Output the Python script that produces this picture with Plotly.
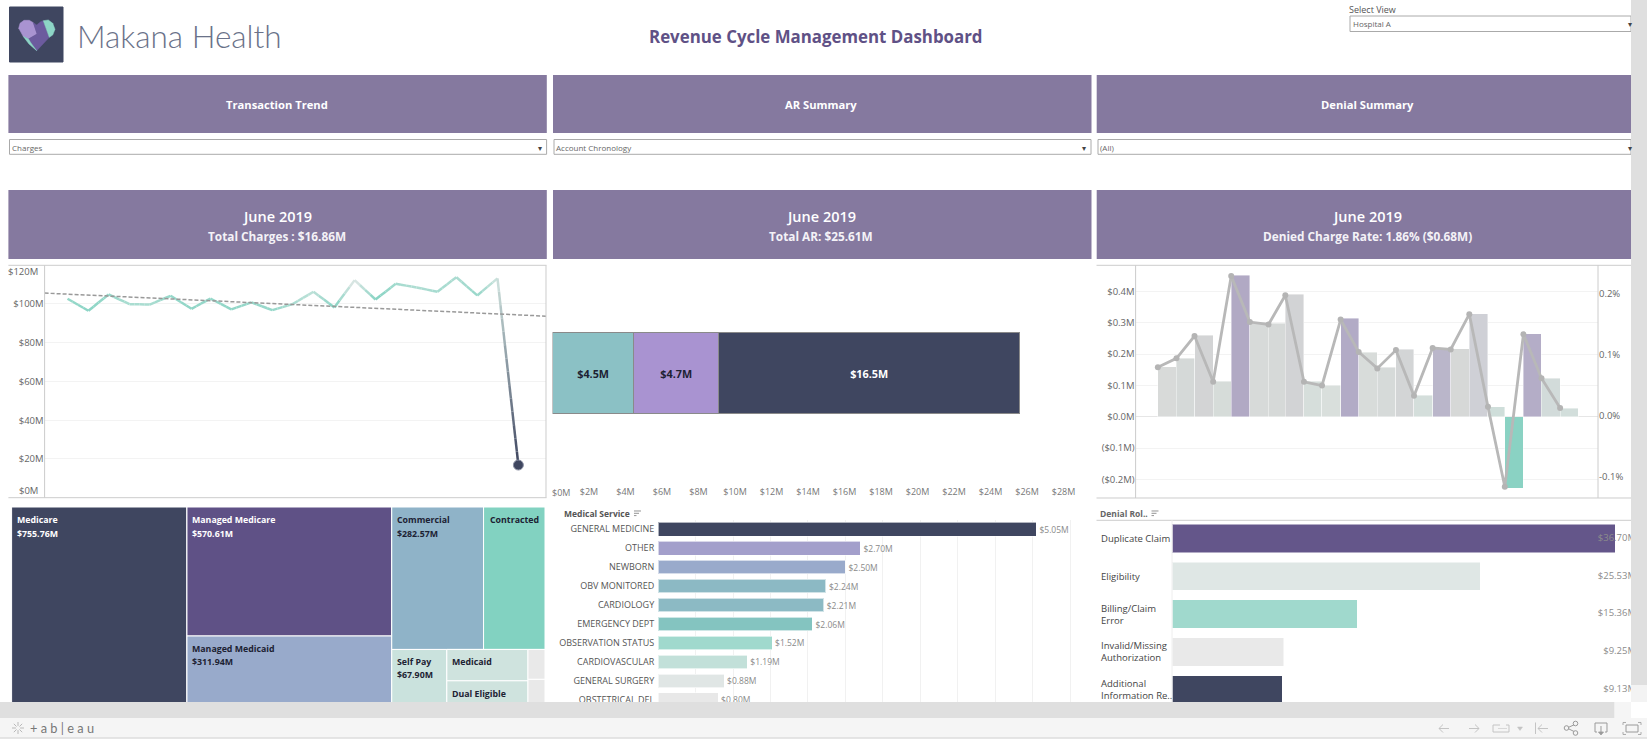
import pandas as pd
import plotly.graph_objects as go

W, H = 1647, 739
FONT = "Open Sans"

# ---------- data ----------
months = list(pd.date_range("2017-08-01", "2019-06-01", freq="MS"))
charges = [102.7, 96.5, 104.9, 99.9, 99.7, 104.2, 97.5, 102.8, 97.2, 100.8, 96.8, 99.9,
           106.3, 98.2, 112.3, 102.3, 110.4, 108.5, 106.3, 113.8, 104.4, 113.2, 16.86]
charge_colors = ["#97d8ca", "#8cd5c5", "#97d8ca", "#aaddd1", "#aaddd1", "#97d8ca", "#90d6c7", "#97d8ca",
                 "#90d6c7", "#97d8ca", "#97d8ca", "#aaddd1", "#bde0d8", "#85d3c3", "#e3e8e6", "#85d3c3",
                 "#a3dbce", "#b0ddd3", "#a5dbcf", "#aedcd2", "#97d8ca", "#cfe3de", "#3f4660"]
trend_x = ["2017-06-28", "2019-07-12"]
trend_y = [105.6, 93.7]
charge_tick_vals = [20, 40, 60, 80, 100]
charge_tick_text = ["$20M", "$40M", "$60M", "$80M", "$100M"]

ar_labels = ["$4.5M", "$4.7M", "$16.5M"]
ar_values = [4.45, 4.66, 16.48]
ar_colors = ["#8bc1c5", "#a993d1", "#3f4660"]
ar_text_colors = ["#1d2233", "#1d2233", "#ffffff"]
ar_tick_vals = list(range(2, 30, 2))
ar_tick_text = ["$%dM" % v for v in ar_tick_vals]

denied_amt = [0.16, 0.187, 0.26, 0.113, 0.451, 0.302, 0.298, 0.391, 0.113, 0.101, 0.314, 0.206,
              0.157, 0.215, 0.068, 0.218, 0.217, 0.329, 0.032, -0.228, 0.264, 0.122, 0.027]
denied_colors = ["#d8dad9", "#d5d9d8", "#d3d4d5", "#d6dcd9", "#b1a9c4", "#d7dad9", "#d6d9d8", "#d2d3d5",
                 "#d6dedb", "#d9dfdc", "#b2abc6", "#d8dcda", "#d6dad9", "#d3d5d6", "#d4dedb", "#bab6ca",
                 "#d6d8d7", "#cfd0d6", "#cfdeda", "#8ad2c3", "#b4adc7", "#d2dbda", "#d2dedb"]
denied_rate = [0.080, 0.0945, 0.131, 0.056, 0.2295, 0.154, 0.150, 0.198, 0.056, 0.050, 0.158, 0.105,
               0.078, 0.108, 0.033, 0.1115, 0.109, 0.167, 0.015, -0.116, 0.134, 0.062, 0.013]
amt_tick_vals = [-0.2, -0.1, 0.0, 0.1, 0.2, 0.3, 0.4]
amt_tick_text = ["($0.2M)", "($0.1M)", "$0.0M", "$0.1M", "$0.2M", "$0.3M", "$0.4M"]
rate_tick_vals = [-0.1, 0.0, 0.1, 0.2]
rate_tick_text = ["-0.1%", "0.0%", "0.1%", "0.2%"]

tm_ids = ["Root", "Medicare", "ColB", "Managed Medicare", "Managed Medicaid", "ColC", "RowC1", "Commercial",
          "Contracted", "RowC2", "Self Pay", "ColD", "Medicaid", "Dual Eligible", "ColE", "Other A", "Other B"]
tm_parents = ["", "Root", "Root", "ColB", "ColB", "Root", "ColC", "RowC1", "RowC1", "ColC", "RowC2", "RowC2",
              "ColD", "ColD", "RowC2", "ColE", "ColE"]
tm_values = [0, 755.76, 0, 570.61, 311.94, 0, 0, 282.57, 189, 0, 67.90, 0, 55, 45, 0, 11, 10]
tm_colors = ["rgba(0,0,0,0)", "#3f4660", "rgba(0,0,0,0)", "#5f5186", "#98aacb", "rgba(0,0,0,0)", "rgba(0,0,0,0)",
             "#8fb3c8", "#82d2c1", "rgba(0,0,0,0)", "#cae2dd", "rgba(0,0,0,0)", "#cfe3de", "#cfe3de",
             "rgba(0,0,0,0)", "#e9e9e9", "#e9e9e9"]

# tile captions: text, left px, first-line px, colour
tm_captions = [("Medicare", 16.8, 520.3, "#ffffff"), ("$755.76M", 16.8, 533.7, "#ffffff"),
               ("Managed Medicare", 192, 520.3, "#ffffff"), ("$570.61M", 192, 533.7, "#ffffff"),
               ("Managed Medicaid", 192, 649, "#1d2233"), ("$311.94M", 192, 662.4, "#1d2233"),
               ("Commercial", 397, 520.3, "#1d2233"), ("$282.57M", 397, 533.7, "#1d2233"),
               ("Contracted", 489.5, 520.3, "#1d2233"),
               ("Self Pay", 397, 661.7, "#1d2233"), ("$67.90M", 397, 675.3, "#1d2233"),
               ("Medicaid", 451.6, 661.7, "#1d2233"), ("Dual Eligible", 451.6, 693.7, "#1d2233")]

svc_names = ["GENERAL MEDICINE", "OTHER", "NEWBORN", "OBV MONITORED", "CARDIOLOGY", "EMERGENCY DEPT",
             "OBSERVATION STATUS", "CARDIOVASCULAR", "GENERAL SURGERY", "OBSTETRICAL DEL"]
svc_values = [5.05, 2.70, 2.50, 2.24, 2.21, 2.06, 1.52, 1.19, 0.88, 0.80]
svc_labels = ["$5.05M", "$2.70M", "$2.50M", "$2.24M", "$2.21M", "$2.06M", "$1.52M", "$1.19M", "$0.88M", "$0.80M"]
svc_colors = ["#3f4660", "#a39fcb", "#99aacb", "#8cb9c4", "#8cbac4", "#84c4c0", "#a0d9cd", "#c2e0d9", "#e0e6e5", "#e8e8e8"]

den_names = ["Duplicate Claim", "Eligibility", "Billing/Claim<br>Error", "Invalid/Missing<br>Authorization",
             "Additional<br>Information Re.."]
den_values = [36.70, 25.53, 15.36, 9.25, 9.13]
den_labels = ["$36.70M", "$25.53M", "$15.36M", "$9.25M", "$9.13M"]
den_colors = ["#64568a", "#dfe7e5", "#a0d9cd", "#e9e9e9", "#3f4660"]
den_label_pos = [38.44] * 5


# ---------- pixel helpers ----------
def X(px): return px / W
def Y(py): return 1 - py / H


shapes, notes = [], []


def rect(x0, y0, x1, y1, fill, line=None, lw=1):
    shapes.append(dict(type="rect", xref="paper", yref="paper", x0=X(x0), x1=X(x1), y0=Y(y0), y1=Y(y1),
                       fillcolor=fill, line=dict(color=line or fill, width=lw if line else 0), layer="above"))


def seg(pts, color, lw=1, fill=None, close=False):
    d = "M" + " L".join("%.5f,%.5f" % (X(a), Y(b)) for a, b in pts) + (" Z" if close else "")
    shapes.append(dict(type="path", xref="paper", yref="paper", path=d, fillcolor=fill,
                       line=dict(color=color, width=lw), layer="above"))


def txt(x, y, s, size=10, color="#555555", anchor="center", family=FONT, weight=None, align=None):
    f = dict(size=size, color=color, family=family)
    if weight: f["weight"] = weight
    notes.append(dict(x=X(x), y=Y(y), xref="paper", yref="paper", text=s, showarrow=False, font=f,
                      xanchor=anchor, yanchor="middle", align=align or anchor))


# ---------- figure ----------
fig = go.Figure()
hov = dict(hoverinfo="skip", showlegend=False)


def hexrgb(h): return [int(h[i:i + 2], 16) for i in (1, 3, 5)]


# line chart: each straight month-to-month segment is painted with a colour blend
for i in range(len(months) - 1):
    steps = 14 if i == len(months) - 2 else 4
    c0, c1 = hexrgb(charge_colors[i]), hexrgb(charge_colors[i + 1])
    for k in range(steps):
        f0, f1, fm = k / steps, (k + 1) / steps, (k + .5) / steps
        col = "rgb(%d,%d,%d)" % tuple(round(a + (b - a) * fm) for a, b in zip(c0, c1))
        fig.add_trace(go.Scatter(
            x=[months[i] + (months[i + 1] - months[i]) * f0, months[i] + (months[i + 1] - months[i]) * f1],
            y=[charges[i] + (charges[i + 1] - charges[i]) * f0, charges[i] + (charges[i + 1] - charges[i]) * f1],
            mode="lines", line=dict(color=col, width=2.5), xaxis="x", yaxis="y", **hov))
fig.add_trace(go.Scatter(x=trend_x, y=trend_y, mode="lines", line=dict(color="#999999", width=1.5, dash="4px,2px"),
                         xaxis="x", yaxis="y", **hov))
fig.add_trace(go.Scatter(x=months[-1:], y=charges[-1:], mode="markers",
                         marker=dict(size=10, color="#3f4660", line=dict(color="#8b90a3", width=1)),
                         xaxis="x", yaxis="y", **hov))

# AR stacked bar
for v, l, c, tc in zip(ar_values, ar_labels, ar_colors, ar_text_colors):
    fig.add_trace(go.Bar(x=[v], y=["AR"], orientation="h", width=0.378, text=["<b>%s</b>" % l], textposition="inside",
                         insidetextanchor="middle", textangle=0, constraintext="none",
                         textfont=dict(size=10.8, color=tc, family=FONT),
                         marker=dict(color=c, line=dict(color="#8a8a8a", width=1.2)),
                         xaxis="x2", yaxis="y2", **hov))

# denial columns + rate line
month_ms = [(b - a).total_seconds() * 1000 for a, b in zip(months, months[1:] + [pd.Timestamp("2019-07-01")])]
fig.add_trace(go.Bar(x=months, y=denied_amt, width=month_ms, offset=0,
                     marker=dict(color=denied_colors, line=dict(color="rgba(255,255,255,0.6)", width=0.7)),
                     xaxis="x3", yaxis="y3", **hov))
fig.add_trace(go.Scatter(x=months, y=denied_rate, mode="lines+markers", line=dict(color="#b8b8b8", width=2.8),
                         marker=dict(size=6, color="#b4b4b4"), xaxis="x3", yaxis="y4", **hov))

# treemap
fig.add_trace(go.Treemap(ids=tm_ids, labels=tm_ids, parents=tm_parents, values=tm_values, branchvalues="remainder",
                         textinfo="none", sort=False,
                         marker=dict(colors=tm_colors, line=dict(color="#ffffff", width=1),
                                     pad=dict(t=0, l=0, r=0, b=0)),
                         tiling=dict(packing="slice-dice", pad=0), pathbar=dict(visible=False),
                         domain=dict(x=[X(11.6), X(545)], y=[Y(706.5), Y(507)]), hoverinfo="skip"))
for s, x0, y0, c in tm_captions:
    txt(x0 - 2, y0, "<b>%s</b>" % s, 8.8, c, "left")

# medical service bars
fig.add_trace(go.Bar(x=svc_values, y=svc_names, orientation="h", width=0.72, text=svc_labels, textposition="outside",
                     textfont=dict(size=8.5, color="#8a8a8a", family=FONT), cliponaxis=False,
                     marker=dict(color=svc_colors, line=dict(color="rgba(255,255,255,0.6)", width=1)),
                     xaxis="x5", yaxis="y5", **hov))

# denial reason bars
den_y = den_names
fig.add_trace(go.Bar(x=den_values, y=den_y, orientation="h", width=0.75,
                     marker=dict(color=den_colors, line=dict(color="rgba(255,255,255,0.5)", width=1)),
                     xaxis="x6", yaxis="y6", **hov))
fig.add_trace(go.Scatter(x=den_label_pos, y=den_y, mode="text", text=den_labels, textposition="middle left",
                         textfont=dict(size=9.5, color="#8c8c8c", family=FONT), xaxis="x6", yaxis="y6", **hov))

GRID = "#f3f3f3"
FRAME = "#cccccc"
TICK = dict(size=9.5, color="#666666", family=FONT)
CAT = dict(size=9, color="#555555", family=FONT)

fig.update_layout(
    width=W, height=H, margin=dict(l=0, r=0, t=0, b=0), autosize=False, paper_bgcolor="#ffffff",
    plot_bgcolor="rgba(0,0,0,0)", barmode="stack", showlegend=False, font=dict(family=FONT),
    xaxis=dict(domain=[X(44.6), X(546)], range=["2017-06-28", "2019-07-12"], type="date", showticklabels=False,
               showgrid=False, zeroline=False, ticks="", anchor="y"),
    yaxis=dict(domain=[Y(497.7), Y(265.2)], range=[0, 120], tickvals=charge_tick_vals, ticktext=charge_tick_text,
               gridcolor=GRID, zeroline=False, tickfont=TICK, anchor="x", ticks=""),
    xaxis2=dict(domain=[X(552.5), X(1090)], range=[0, 29.45], tickvals=ar_tick_vals, ticktext=ar_tick_text,
                showgrid=False, zeroline=False, tickfont=dict(size=9, color="#777777", family=FONT), anchor="y2",
                ticks="", ticklabelstandoff=4),
    yaxis2=dict(domain=[Y(481), Y(265)], range=[-0.5, 0.5], type="category", showticklabels=False, showgrid=False,
                zeroline=False, anchor="x2"),
    xaxis3=dict(domain=[X(1135.6), X(1598)], range=["2017-06-25", "2019-08-03"], type="date", showticklabels=False,
                showgrid=False, zeroline=False, ticks="", anchor="y3"),
    yaxis3=dict(domain=[Y(498), Y(265.3)], range=[-0.2595, 0.4832], tickvals=amt_tick_vals, ticktext=amt_tick_text,
                gridcolor=GRID, zeroline=True, zerolinecolor="#e6e6e6", zerolinewidth=1, tickfont=TICK, anchor="x3", ticks=""),
    yaxis4=dict(domain=[Y(498), Y(265.3)], range=[-0.13443, 0.24705], tickvals=rate_tick_vals, ticktext=rate_tick_text,
                showgrid=False, zeroline=False, tickfont=TICK, anchor="x3", overlaying="y3", side="right", ticks=""),
    xaxis5=dict(domain=[X(658.2), X(1077.6)], range=[0, 5.6], dtick=0.5, showticklabels=False, gridcolor="#f1f1f1",
                zeroline=False, anchor="y5", ticks=""),
    yaxis5=dict(domain=[Y(709.3), Y(519.8)], type="category", categoryorder="array", categoryarray=svc_names,
                range=[9.5, -0.5], showgrid=False, zeroline=False, tickfont=CAT, anchor="x5", ticks="",
                ticklabelstandoff=3),
    xaxis6=dict(domain=[X(1172), X(1647)], range=[0, 39.35], showticklabels=False, showgrid=False, zeroline=False,
                anchor="y6"),
    yaxis6=dict(domain=[Y(708.6), Y(519.6)], type="category", categoryorder="array", categoryarray=den_names,
                range=[4.5, -0.5], showticklabels=False, showgrid=False, zeroline=False, anchor="x6"),
)

# ---------- frames ----------
for y0 in (265.3, 497.7):
    seg([(8.4, y0), (546.5, y0)], FRAME, 1)
seg([(44.6, 265.3), (44.6, 497.7)], FRAME, 1)
seg([(546, 265.3), (546, 497.7)], FRAME, 1)
for y0 in (265.3, 498):
    seg([(1096.5, y0), (1631, y0)], FRAME, 1)
seg([(1135.6, 265.3), (1135.6, 498)], FRAME, 1)
seg([(1598, 265.3), (1598, 498)], FRAME, 1)
seg([(1096.5, 520.3), (1631, 520.3)], FRAME, 1)
seg([(1172, 520.3), (1172, 702)], "#eeeeee", 1)

# end labels shifted inside the frame
txt(39.7, 271.3, "$120M", 9.5, "#666666", "right")
txt(39.7, 490.7, "$0M", 9.5, "#666666", "right")
txt(561, 492.3, "$0M", 9, "#777777")

# ---------- header ----------
rect(9.5, 7, 63, 62, "#3f4660", "#3f4660", 1)
seg([(18.7, 28.3), (20, 23.3), (24, 20.3), (29.3, 20.3), (33.3, 22.7), (37, 34), (28.5, 39), (23.3, 36.5)],
    "#a993d1", 0.5, "#a993d1", True)
seg([(33.3, 22.7), (36.7, 25), (40.7, 21.7), (43.3, 20.7), (49.3, 37.3), (36.7, 50.7), (31, 43), (28.5, 39), (37, 34)],
    "#6c5b9e", 0.5, "#6c5b9e", True)
seg([(43.3, 20.7), (48.3, 20), (52.7, 23.3), (55, 29.3), (52.7, 35), (49.3, 37.3)], "#8dd5c6", 0.5, "#8dd5c6", True)
seg([(23.3, 36.5), (28.5, 39), (31, 43), (36.7, 50.7), (29, 44)], "#8dd5c6", 0.5, "#8dd5c6", True)
txt(74.5, 36, "Makana Health", 31.5, "#6a7289", "left", "Lato", 300)
txt(816, 36.5, "<b>Revenue Cycle Management Dashboard</b>", 16.87, "#5f5186")
txt(1347, 9, "Select View", 9, "#555555", "left")

for x0, x1, label, ycls in [(1350, 1631, "Hospital A", (16, 31.5))]:
    rect(x0, ycls[0], x1, ycls[1], "#ffffff", "#aaaaaa", 1)
    txt(x0 + 1, 24, label, 8, "#666666", "left")
txt(1630, 24, "▾", 8, "#444444")

for x0, x1, cx, name, sub in [(8.4, 546.8, 276.5, "Transaction Trend", "Total Charges : $16.86M"),
                              (553, 1091.5, 821, "AR Summary", "Total AR: $25.61M"),
                              (1096.7, 1631, 1367, "Denial Summary", "Denied Charge Rate: 1.86% ($0.68M)")]:
    rect(x0, 75, x1, 133, "#85799f")
    rect(x0, 190, x1, 259, "#85799f")
    txt(cx, 104.3, "<b>%s</b>" % name, 11.2, "#ffffff")
    txt(cx, 216.7, "June 2019", 14.5, "#ffffff", weight=600)
    txt(cx, 236, "<b>%s</b>" % sub, 11.8, "#f4f2f7")

for x0, x1, label in [(9.5, 546.6, "Charges"), (554, 1091, "Account Chronology"), (1098, 1631, "(All)")]:
    rect(x0, 139.5, x1, 154.3, "#ffffff", "#aaaaaa", 1)
    txt(x0, 147, label, 8, "#666666", "left")
    txt(x1 - 7 if x1 < 1600 else 1630, 147, "▾", 8, "#444444")

# ---------- sub-headers ----------
txt(562, 513.7, "<b>Medical Service</b>", 8.5, "#555555", "left")
txt(1098, 513.7, "<b>Denial Rol..</b>", 8.5, "#666666", "left")
for x0 in (634, 1151.5):
    for j, ln in enumerate((7, 5, 2.5)):
        seg([(x0, 511 + j * 2.3), (x0 + ln, 511 + j * 2.3)], "#888888", 0.9)

for name in den_names:
    notes.append(dict(x=X(1099), y=name, xref="paper", yref="y6", text=name, showarrow=False,
                      xanchor="left", yanchor="middle", align="left",
                      font=dict(size=9.5, color="#444444", family=FONT)))

# ---------- window chrome ----------
rect(0, 702, 1614.6, 718, "#dfdfdf")
rect(1614.6, 702, 1631, 718, "#f5f5f5")
rect(1631, 702, 1647, 718, "#ffffff")
rect(1631, 0, 1647, 685, "#dfdfdf")
rect(1631, 685, 1647, 702, "#f3f3f3")
rect(0, 718, 1647, 737.5, "#f5f5f5")
seg([(0, 738), (1647, 738)], "#cccccc", 1)

# tableau mark and wordmark
for dx, dy in [(-6, 0), (6, 0), (0, -6), (0, 6), (-4.2, -4.2), (4.2, 4.2), (-4.2, 4.2), (4.2, -4.2)]:
    seg([(18 + dx * .35, 728 + dy * .35), (18 + dx, 728 + dy)], "#b9b9b9", 1)
txt(28, 728, "+ a b | e a u", 12.8, "#777777", "left", "Lato")

IC = "#c4c4c4"
seg([(1439, 728.5), (1449, 728.5)], IC); seg([(1443, 724.5), (1439, 728.5), (1443, 732.5)], IC)
seg([(1469, 728.5), (1479, 728.5)], IC); seg([(1475, 724.5), (1479, 728.5), (1475, 732.5)], IC)
seg([(1500, 725), (1493, 725), (1493, 732), (1509, 732), (1509, 725), (1506, 725)], IC)
seg([(1498, 728.5), (1507, 728.5)], IC, 0.6)
seg([(1517.5, 727), (1522.5, 727), (1520, 730.5)], IC, 0.5, IC, True)
seg([(1535.5, 722.5), (1535.5, 734)], IC); seg([(1538, 728.5), (1548, 728.5)], IC)
seg([(1542, 724.5), (1538, 728.5), (1542, 732.5)], IC)
SH = "#9a9a9a"
seg([(1577, 723.5), (1567, 728), (1577, 733)], SH)
for cx, cy in [(1575.5, 723.5), (1566.5, 728), (1575.5, 733)]:
    shapes.append(dict(type="circle", xref="paper", yref="paper", x0=X(cx - 2.3), x1=X(cx + 2.3), y0=Y(cy + 2.3),
                       y1=Y(cy - 2.3), fillcolor="#f5f5f5", line=dict(color=SH, width=1), layer="above"))
seg([(1597, 732), (1595, 732), (1595, 723), (1607, 723), (1607, 732), (1605, 732)], SH)
seg([(1601, 726), (1601, 734)], SH); seg([(1598.5, 732), (1601, 735), (1603.5, 732)], SH, 0.8, SH, True)
rect(1626, 725, 1638, 732, "#f5f5f5", SH, 1)
for a, b, c in [((1623, 725), (1623, 722.5), (1626, 722.5)), ((1638, 722.5), (1641, 722.5), (1641, 725)),
                ((1623, 732), (1623, 734.5), (1626, 734.5)), ((1638, 734.5), (1641, 734.5), (1641, 732))]:
    seg([a, b, c], SH, 0.8)

fig.update_layout(shapes=shapes, annotations=notes)
fig.write_html("out.html", config={"displayModeBar": False},
               post_script="document.body.style.margin='0';document.body.style.overflow='hidden';")
